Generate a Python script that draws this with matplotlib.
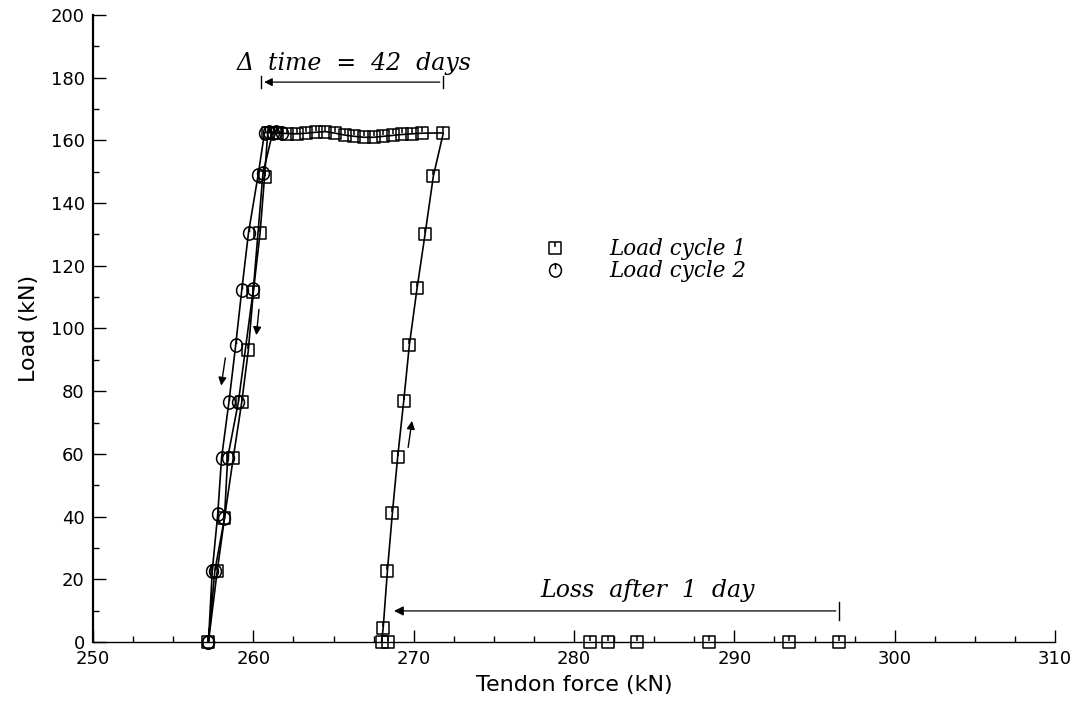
import numpy as np
import matplotlib.pyplot as plt
from matplotlib.path import Path
from matplotlib.lines import Line2D
from matplotlib.ticker import MultipleLocator

# Load cycle 1 (squares): loading, 42 day hold at ~162 kN, unloading
force1 = [268.0, 268.1, 268.36, 268.67, 269.0, 269.38, 269.73, 270.21, 270.71, 271.23, 271.85,
          270.5, 269.9, 269.3, 268.7, 268.1, 267.5, 266.9, 266.3, 265.7, 265.1, 264.5,
          263.9, 263.3, 262.7, 262.1, 261.5, 260.9,
          260.7, 260.42, 260.0, 259.69, 259.28, 258.75, 258.2, 257.75, 257.2]
load1 = [0, 4.6, 22.6, 41.0, 58.9, 76.9, 94.7, 112.8, 130.1, 148.7, 162.4,
         162.3, 162.1, 161.9, 161.6, 161.3, 161.0, 161.0, 161.3, 161.7, 162.3, 162.8,
         162.6, 162.3, 162.1, 162.2, 162.4, 162.5,
         148.4, 130.4, 111.7, 93.1, 76.6, 58.8, 39.5, 22.7, 0]

# tendon force at zero load during the first day (loss after 1 day)
force0 = [296.5, 293.4, 288.4, 283.9, 282.1, 281.0, 268.4]
load0 = [0, 0, 0, 0, 0, 0, 0]

# Load cycle 2 (circles)
force2 = [257.2, 257.44, 257.78, 258.02, 258.48, 258.9, 259.28, 259.7, 260.3, 260.7,
          261.0, 261.4, 261.8, 261.2, 260.6, 260.0, 259.07, 258.4, 258.2, 257.6, 257.2]
load2 = [0, 22.7, 40.8, 58.8, 76.6, 94.7, 112.3, 130.6, 149.0, 162.5,
         162.7, 162.6, 162.5, 162.4, 149.5, 112.5, 76.6, 58.8, 39.5, 22.7, 0]

labels = ['Load cycle 1', 'Load cycle 2']

# markers with the little tick from the top (as in the old plotter output)
sq = Path([(-1, -1), (1, -1), (1, 1), (-1, 1), (-1, -1), (0, 1), (0, 0.2)],
          [Path.MOVETO, Path.LINETO, Path.LINETO, Path.LINETO, Path.CLOSEPOLY, Path.MOVETO, Path.LINETO])
circ = Path.unit_circle()
circ = Path(np.vstack([circ.vertices * [0.9, 1.0], [[0, 1], [0, 0.2]]]),
            np.concatenate([circ.codes, [Path.MOVETO, Path.LINETO]]))

fig = plt.figure(figsize=(10.8, 7.05), dpi=100)
ax = fig.add_axes([0.0861, 0.0894, 0.8908, 0.8893])

mk = dict(color='black', lw=1.2, mfc='none', mec='black', mew=1.1)
ax.plot(force1, load1, marker=sq, ms=8, **mk, clip_on=False)
ax.plot(force2, load2, marker=circ, ms=9.5, **mk, clip_on=False)
ax.plot(force0, load0, marker=sq, ls='none', color='black', mfc='none', mec='black',
        mew=1.1, ms=8, clip_on=False)

ax.set_xlim(250, 310)
ax.set_ylim(0, 200)
ax.xaxis.set_major_locator(MultipleLocator(10))
ax.xaxis.set_minor_locator(MultipleLocator(2.5))
ax.yaxis.set_major_locator(MultipleLocator(20))
ax.yaxis.set_minor_locator(MultipleLocator(10))
ax.tick_params(direction='in', which='major', length=9, width=1, labelsize=13, pad=6)
ax.tick_params(direction='in', which='minor', length=4, width=1)
ax.spines['top'].set_visible(False)
ax.spines['right'].set_visible(False)
ax.spines['left'].set_linewidth(1.6)
ax.spines['bottom'].set_linewidth(1.0)

ax.set_xlabel('Tendon force (kN)', fontsize=16, labelpad=5)
ax.set_ylabel('Load (kN)', fontsize=16, labelpad=8)

# direction arrows
arr = dict(arrowstyle='-|>', color='black', lw=1.0, mutation_scale=12)
ax.annotate('', xy=(257.97, 80.9), xytext=(258.28, 91.5), arrowprops=arr)
ax.annotate('', xy=(260.17, 97.0), xytext=(260.37, 107.0), arrowprops=arr)
ax.annotate('', xy=(269.92, 71.4), xytext=(269.63, 61.2), arrowprops=arr)

# delta time annotation
ax.annotate('', xy=(260.5, 178.6), xytext=(271.8, 178.6),
            arrowprops=dict(arrowstyle='-|>', color='black', lw=0.9, mutation_scale=12))
ax.plot([260.5, 260.5], [176.8, 180.4], color='black', lw=1)
ax.plot([271.8, 271.8], [176.8, 180.4], color='black', lw=1)
ax.text(266.3, 181.0, '\u0394  time  =  42  days', fontsize=17, style='italic',
        family='DejaVu Serif', ha='center', va='bottom')

# loss after 1 day annotation
ax.annotate('', xy=(268.6, 9.9), xytext=(296.5, 9.9),
            arrowprops=dict(arrowstyle='-|>', color='black', lw=0.9, mutation_scale=14))
ax.plot([296.5, 296.5], [7.0, 12.8], color='black', lw=1)
ax.text(284.6, 12.8, 'Loss  after  1  day', fontsize=17, style='italic',
        family='DejaVu Serif', ha='center', va='bottom')

handles = [Line2D([], [], ls='none', marker=sq, mfc='none', mec='black', mew=1.1, ms=8),
           Line2D([], [], ls='none', marker=circ, mfc='none', mec='black', mew=1.1, ms=9.5)]
ax.legend(handles, labels, loc='upper left', bbox_to_anchor=(0.447, 0.675), frameon=False,
          handlelength=1.2, handletextpad=1.9, labelspacing=0.0,
          prop=dict(family='DejaVu Serif', style='italic', size=15.5))

fig.savefig('out.png', dpi=100)
